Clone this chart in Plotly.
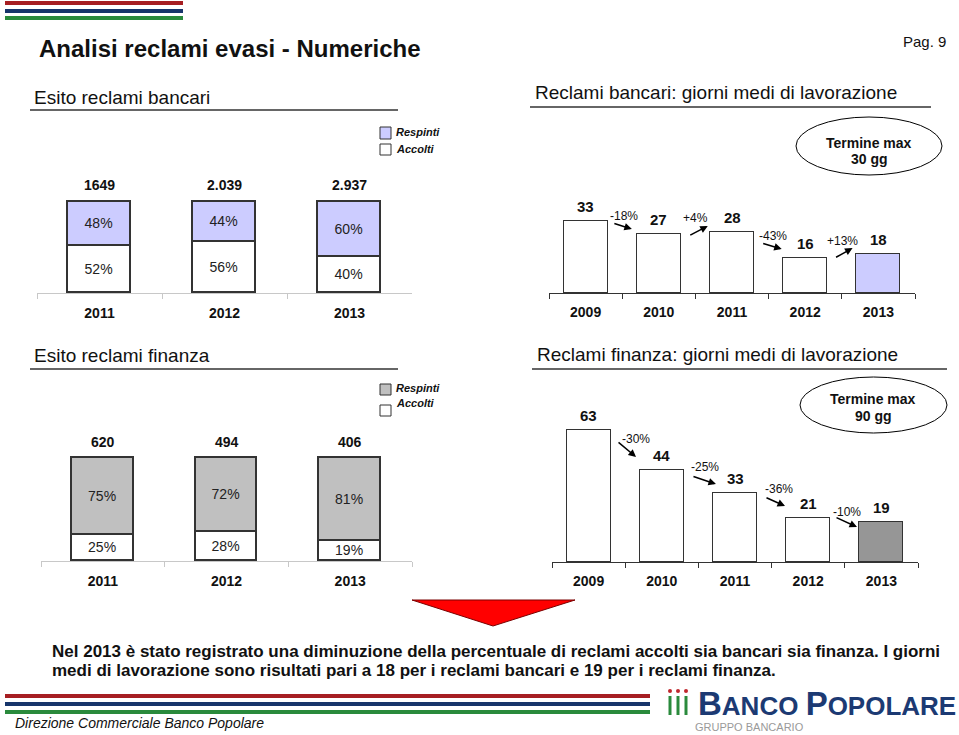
import plotly.graph_objects as go

W, H = 959, 735

def px(x):
    return x / W

def py(y):
    return 1 - y / H

# dati
anni_esito = ["2011", "2012", "2013"]
bancari_accolti = [52, 56, 40]
bancari_respinti = [48, 44, 60]
bancari_totali = ["1649", "2.039", "2.937"]
finanza_accolti = [25, 28, 19]
finanza_respinti = [75, 72, 81]
finanza_totali = ["620", "494", "406"]

anni_giorni = ["2009", "2010", "2011", "2012", "2013"]
giorni_bancari = [33, 27, 28, 16, 18]
var_bancari = ["-18%", "+4%", "-43%", "+13%"]
giorni_finanza = [63, 44, 33, 21, 19]
var_finanza = ["-30%", "-25%", "-36%", "-10%"]

LAVANDA = "#ccccff"
GRIGIO = "#c0c0c0"
GRIGIO_SCURO = "#969696"
BORDO = "#333333"
FONT = "Liberation Sans, Arial, sans-serif"
NARROW = "Liberation Sans Narrow, Arial Narrow, Liberation Sans, sans-serif"

# posizione frecce (testa in coord. dati, coda in pixel) e etichette
frecce_bancari = [(0.632, 29.2, -19, -6), (1.669, 30.6, -19, 10),
                  (2.679, 20.1, -20, -6), (3.647, 20.5, -18, 10)]
testo_bancari = [(0.518, 35.2), (1.50, 34.2), (2.56, 26.0), (3.51, 23.7)]
frecce_finanza = [(0.648, 50.1, -19, -16), (1.740, 37.2, -24, -8),
                  (2.683, 26.7, -20, -9), (3.667, 16.7, -22, -10)]
testo_finanza = [(0.648, 58.7), (1.590, 45.3), (2.601, 34.8), (3.530, 23.9)]

fig = go.Figure()

def barre_impilate(valori, colore, asse_x, asse_y):
    fig.add_trace(go.Bar(x=anni_esito, y=valori,
                         marker=dict(color=colore, line=dict(color=BORDO, width=1.8)),
                         text=[f"{v}%" for v in valori], textposition="inside",
                         insidetextanchor="middle", constraintext="none",
                         textfont=dict(size=14, color="#222"),
                         width=0.5, xaxis=asse_x, yaxis=asse_y, hoverinfo="skip"))

# pannello 1: esito reclami bancari
barre_impilate(bancari_accolti, "white", "x", "y")
barre_impilate(bancari_respinti, LAVANDA, "x", "y")

# pannello 2: giorni medi bancari
fig.add_trace(go.Bar(x=anni_giorni, y=giorni_bancari,
                     marker=dict(color=["white"] * 4 + [LAVANDA], line=dict(color=BORDO, width=1.5)),
                     width=0.6, xaxis="x2", yaxis="y2", hoverinfo="skip"))

# pannello 3: esito reclami finanza
barre_impilate(finanza_accolti, "white", "x3", "y3")
barre_impilate(finanza_respinti, GRIGIO, "x3", "y3")

# pannello 4: giorni medi finanza
fig.add_trace(go.Bar(x=anni_giorni, y=giorni_finanza,
                     marker=dict(color=["white"] * 4 + [GRIGIO_SCURO], line=dict(color=BORDO, width=1.5)),
                     width=0.6, xaxis="x4", yaxis="y4", hoverinfo="skip"))

ann = []
shapes = []

# totali sopra le barre impilate
for i, t in enumerate(bancari_totali):
    ann.append(dict(x=i, y=100, xref="x", yref="y", text=f"<b>{t}</b>", showarrow=False,
                    yanchor="bottom", yshift=7, font=dict(size=14)))
for i, t in enumerate(finanza_totali):
    ann.append(dict(x=i, y=100, xref="x3", yref="y3", text=f"<b>{t}</b>", showarrow=False,
                    yanchor="bottom", yshift=6, font=dict(size=14)))

# valori sopra le barre dei giorni
for i, v in enumerate(giorni_bancari):
    ann.append(dict(x=i, y=v, xref="x2", yref="y2", text=f"<b>{v}</b>", showarrow=False,
                    yanchor="bottom", yshift=4, font=dict(size=15)))
for i, v in enumerate(giorni_finanza):
    ann.append(dict(x=i, y=v, xref="x4", yref="y4", text=f"<b>{v}</b>", showarrow=False,
                    yanchor="bottom", yshift=4, font=dict(size=15)))

# frecce di variazione
for (hx, hy, ax, ay), (tx, ty), lab in zip(frecce_bancari, testo_bancari, var_bancari):
    ann.append(dict(x=hx, y=hy, xref="x2", yref="y2", ax=ax, ay=ay, text="", showarrow=True,
                    arrowhead=2, arrowsize=1, arrowwidth=1.5, arrowcolor="black"))
    ann.append(dict(x=tx, y=ty, xref="x2", yref="y2", text=lab, showarrow=False,
                    font=dict(size=12)))
for (hx, hy, ax, ay), (tx, ty), lab in zip(frecce_finanza, testo_finanza, var_finanza):
    ann.append(dict(x=hx, y=hy, xref="x4", yref="y4", ax=ax, ay=ay, text="", showarrow=True,
                    arrowhead=2, arrowsize=1, arrowwidth=1.5, arrowcolor="black"))
    ann.append(dict(x=tx, y=ty, xref="x4", yref="y4", text=lab, showarrow=False,
                    font=dict(size=12)))

def testo(x, y, t, size, xanchor="left", **kw):
    ann.append(dict(x=px(x), y=py(y), xref="paper", yref="paper", text=t, showarrow=False,
                    xanchor=xanchor, yanchor="middle", font=dict(size=size, **kw)))

def linea(x0, y0, x1, y1, color="#333", width=1.5):
    shapes.append(dict(type="line", xref="paper", yref="paper", x0=px(x0), y0=py(y0),
                       x1=px(x1), y1=py(y1), line=dict(color=color, width=width)))

def rett(x0, y0, x1, y1, fill, line="#333", width=1):
    shapes.append(dict(type="rect", xref="paper", yref="paper", x0=px(x0), y0=py(y0),
                       x1=px(x1), y1=py(y1), fillcolor=fill, line=dict(color=line, width=width)))

def strisce(x0, x1, y_rosso, y_blu, y_verde, h):
    rett(x0, y_rosso, x1, y_rosso + h, "#a61e22", line="#a61e22", width=0)
    rett(x0, y_blu, x1, y_blu + h, "#17356b", line="#17356b", width=0)
    rett(x0, y_verde, x1, y_verde + h, "#2a8a3c", line="#2a8a3c", width=0)

# intestazione
strisce(5, 183, 1, 9, 16, 4)
testo(37, 48, "<b>Analisi reclami evasi - Numeriche</b>", 24)
testo(948, 41, "Pag. 9", 15, xanchor="right")

# titoli pannelli
testo(32, 97, "Esito reclami bancari", 19)
linea(30, 110, 398, 110)
testo(533, 93, "Reclami bancari: giorni medi di lavorazione", 19)
linea(530, 107, 931, 107)
testo(32, 356, "Esito reclami finanza", 19)
linea(30, 369, 398, 369)
testo(535, 354, "Reclami finanza: giorni medi di lavorazione", 19)
linea(532, 369, 947, 369)

# legende
rett(380, 127, 391, 139, LAVANDA)
testo(394, 132, "<b><i>Respinti</i></b>", 11)
rett(380, 144, 391, 155, "white")
testo(394, 149, "<b><i>Accolti</i></b>", 11)
rett(380, 384, 391, 395, GRIGIO)
testo(394, 388, "<b><i>Respinti</i></b>", 11)
rett(380, 405, 391, 416, "white")
testo(394, 403, "<b><i>Accolti</i></b>", 11)

# ellissi termine massimo
shapes.append(dict(type="circle", xref="paper", yref="paper", x0=px(796), y0=py(117),
                   x1=px(942), y1=py(175), line=dict(color="black", width=1)))
testo(869, 143, "<b>Termine max</b>", 14, xanchor="center")
testo(869, 159, "<b>30 gg</b>", 14, xanchor="center")
shapes.append(dict(type="circle", xref="paper", yref="paper", x0=px(800), y0=py(377),
                   x1=px(947), y1=py(433), line=dict(color="black", width=1)))
testo(873, 399, "<b>Termine max</b>", 14, xanchor="center")
testo(873, 416, "<b>90 gg</b>", 14, xanchor="center")

# triangolo rosso
shapes.append(dict(type="path", xref="paper", yref="paper",
                   path=f"M {px(412)},{py(600)} L {px(575)},{py(600)} L {px(493)},{py(626)} Z",
                   fillcolor="#ff0000", line=dict(color="#7a0000", width=1)))

# testo conclusivo
testo(50, 651, "<b>Nel 2013 è stato registrato una diminuzione della percentuale di reclami accolti "
      "sia bancari sia finanza. I giorni</b>", 17, family=NARROW)
testo(50, 670, "<b>medi di lavorazione sono risultati pari a 18 per i reclami bancari e 19 per i "
      "reclami finanza.</b>", 17, family=NARROW)

# piè di pagina
strisce(5, 650, 694, 702, 710, 4)
testo(13, 723, "<i>Direzione Commerciale Banco Popolare</i>", 14, family=NARROW)
testo(696, 703, "<b><span style='font-size:33px'>B</span>ANCO <span style='font-size:33px'>P</span>OPOLARE</b>",
      26, family=FONT, color="#1c3a73")
testo(693, 727, "GRUPPO BANCARIO", 11, family=NARROW, color="#9a9a9a")
for cx, col in [(670, "#c0272d"), (678, "#c0272d"), (686, "#c0272d")]:
    shapes.append(dict(type="circle", xref="paper", yref="paper", x0=px(cx - 2), y0=py(689),
                       x1=px(cx + 2), y1=py(693), fillcolor=col, line=dict(width=0)))
    rett(cx - 1.5, 696, cx + 1.5, 715, "#2a8a3c", line="#2a8a3c", width=0)

asse_cat = dict(type="category", showline=True, ticks="outside", tickson="boundaries",
                ticklen=5, showgrid=False, zeroline=False, fixedrange=True,
                tickfont=dict(size=14, weight="bold", color="#111"))
asse_y = dict(visible=False, showgrid=False, zeroline=False, fixedrange=True)

fig.update_layout(
    width=W, height=H, margin=dict(l=0, r=0, t=0, b=0),
    paper_bgcolor="white", plot_bgcolor="rgba(0,0,0,0)",
    font=dict(family=FONT, color="#111"),
    barmode="stack", bargap=0, showlegend=False,
    xaxis=dict(asse_cat, domain=[px(37), px(412)], range=[-0.5, 2.5],
               linecolor="#c8c8c8", tickcolor="#c8c8c8", ticklabelstandoff=7),
    yaxis=dict(asse_y, domain=[py(293), py(170)], range=[0, 123 / 0.91]),
    xaxis2=dict(asse_cat, domain=[px(549), px(915)], range=[-0.5, 4.5], anchor="y2",
                linecolor="#333", tickcolor="#333", ticklabelstandoff=6),
    yaxis2=dict(asse_y, domain=[py(293), py(175)], range=[0, 118 / 2.19], anchor="x2"),
    xaxis3=dict(asse_cat, domain=[px(41), px(412)], range=[-0.5, 2.5], anchor="y3",
                linecolor="#c8c8c8", tickcolor="#c8c8c8", ticklabelstandoff=7),
    yaxis3=dict(asse_y, domain=[py(561), py(430)], range=[0, 131 / 1.03], anchor="x3"),
    xaxis4=dict(asse_cat, domain=[px(552), px(918)], range=[-0.5, 4.5], anchor="y4",
                linecolor="#333", tickcolor="#333", ticklabelstandoff=6),
    yaxis4=dict(asse_y, domain=[py(562), py(375)], range=[0, 187 / 2.095], anchor="x4"),
    annotations=ann, shapes=shapes,
)

fig.write_html("out.html", config={"displayModeBar": False},
               post_script="document.body.style.margin = '0';")
